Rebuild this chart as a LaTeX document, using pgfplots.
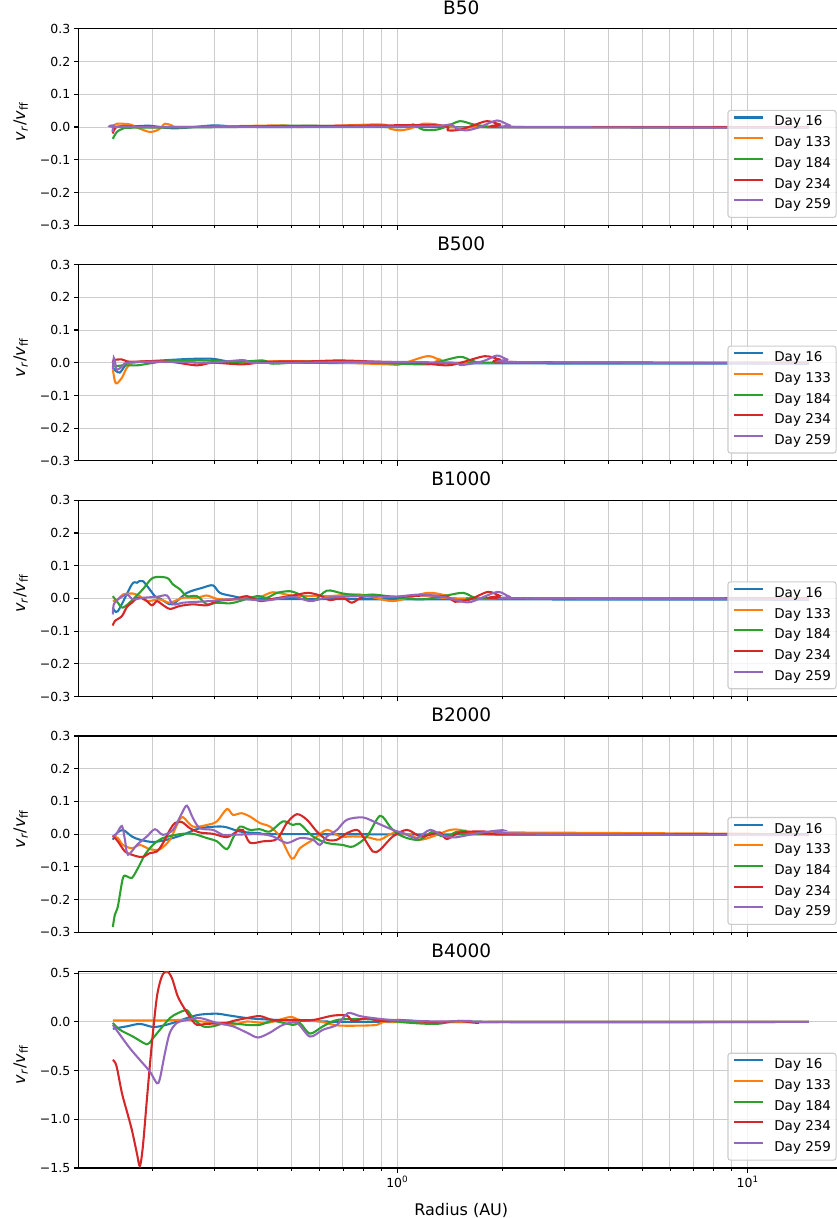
\documentclass[border=0pt]{standalone}
\usepackage{fontspec}
\setmainfont{DejaVu Sans}
\usepackage{pgfplots}
\pgfplotsset{compat=1.18}
\definecolor{c0}{HTML}{1F77B4}
\definecolor{c1}{HTML}{FF7F0E}
\definecolor{c2}{HTML}{2CA02C}
\definecolor{c3}{HTML}{D62728}
\definecolor{c4}{HTML}{9467BD}
\pgfplotsset{
  legend image code/.code={\draw[#1, line width=2.08pt] (0pt,5pt) -- (28.7pt,5pt); \path (39.3pt,5pt);},
}
\begin{document}
\begin{tikzpicture}
% ---------------- B50
\begin{axis}[scale only axis, width=765.1pt, height=196.3pt, anchor=south west, at={(78.7pt,992.8pt)},
    xmode=log, xmin=0.1233, xmax=18.81, xtick={1,10},
    minor xtick={0.2,0.3,0.4,0.5,0.6,0.7,0.8,0.9,2,3,4,5,6,7,8,9},
    xticklabels={,,},
    ymin=-0.3, ymax=0.3, ytick={-0.3,-0.2,-0.1,0,0.1,0.2,0.3},
    yticklabels={−0.3,−0.2,−0.1,0.0,0.1,0.2,0.3},
    xmajorgrids, xminorgrids, ymajorgrids,
    grid style={line width=1.0pt, color=black!20},
    axis line style={line width=1.1pt, black},
    tick align=outside, tick pos=left,
    major tick length=4.9pt, minor tick length=2.8pt,
    major tick style={line width=1.1pt, black},
    minor tick style={line width=0.8pt, black},
    tick label style={font=\fontsize{12.5}{15}\selectfont},
    title={B50},
    title style={font=\fontsize{18.5}{22}\selectfont, at={(0.5,1)}, anchor=base, yshift=8.3pt},
    ylabel={\textit{v}\textsubscript{\textit{r}}/\textit{v}\textsubscript{ff}},
    every axis y label/.style={at={(axis description cs:0,0.5)}, xshift=-53.5pt, yshift=5pt, rotate=90, anchor=base, font=\fontsize{16}{19}\selectfont},
    legend style={at={(1,0)}, anchor=south east, xshift=-7.2pt, yshift=7.3pt,
      draw=black!20, line width=1.1pt, rounded corners=2.5pt, fill=white, fill opacity=0.8, text opacity=1,
      font=\fontsize{13.5}{16}\selectfont, inner xsep=5pt, inner ysep=5.2pt, row sep=7pt,
      nodes={inner sep=0pt, text height=10.3pt, text depth=3.4pt}},
    legend cell align=left,
]
\addplot[c0, line width=2.08pt, smooth, tension=0.5] coordinates {(0.1543,-0.015)(0.1564,0)(0.1761,0.002)(0.1969,0.004)(0.2202,-0.003)(0.2445,-0.003)(0.2979,0.005)(0.3397,0.002)(0.4246,0)(1.0,0)(3,-0.001)(14.95,-0.002)};
\addlegendentry{Day 16}
\addplot[c1, line width=2.08pt, smooth, tension=0.5] coordinates {(0.1543,0.002)(0.1585,0.010)(0.1726,0.008)(0.1843,-0.005)(0.1969,-0.015)(0.2083,-0.008)(0.2173,0.010)(0.2275,0.005)(0.2445,0)(0.4626,0.005)(0.5276,0)(0.8925,0.008)(0.9532,-0.005)(1.018,-0.010)(1.087,-0.005)(1.184,0.010)(1.295,0.008)(1.386,0)(1.581,-0.002)(1.964,0)(14.95,0)};
\addlegendentry{Day 133}
\addplot[c2, line width=2.08pt, smooth, tension=0.5] coordinates {(0.1543,-0.036)(0.1585,-0.015)(0.1649,-0.005)(0.1761,-0.002)(0.3397,0)(0.4717,0.004)(0.5745,0.004)(1.018,0)(1.109,0.008)(1.184,-0.008)(1.295,-0.008)(1.386,0.002)(1.510,0.018)(1.649,0.008)(1.803,0.002)(1.964,0)(14.95,0)};
\addlegendentry{Day 184}
\addplot[c3, line width=2.08pt, smooth, tension=0.5] coordinates {(0.1543,-0.020)(0.1564,-0.005)(0.1638,0.002)(0.2202,0)(0.6999,0.004)(1.324,0.005)(1.395,-0.010)(1.510,-0.008)(1.649,0.005)(1.803,0.018)(1.964,0.008)(2.14,0)(14.95,0)};
\addlegendentry{Day 234}
\addplot[c4, line width=2.08pt, smooth, tension=0.5] coordinates {(0.1543,-0.015)(0.1553,0.005)(0.1616,0)(0.4,0)(1.2,0.002)(1.414,0.008)(1.477,-0.005)(1.581,-0.010)(1.722,0)(1.925,0.020)(2.097,0.005)(2.29,0)(14.95,-0.002)};
\addlegendentry{Day 259}
\end{axis}
% ---------------- B500
\begin{axis}[scale only axis, width=765.1pt, height=196.3pt, anchor=south west, at={(78.7pt,757.1pt)},
    xmode=log, xmin=0.1233, xmax=18.81, xtick={1,10},
    minor xtick={0.2,0.3,0.4,0.5,0.6,0.7,0.8,0.9,2,3,4,5,6,7,8,9},
    xticklabels={,,},
    ymin=-0.3, ymax=0.3, ytick={-0.3,-0.2,-0.1,0,0.1,0.2,0.3},
    yticklabels={−0.3,−0.2,−0.1,0.0,0.1,0.2,0.3},
    xmajorgrids, xminorgrids, ymajorgrids,
    grid style={line width=1.0pt, color=black!20},
    axis line style={line width=1.1pt, black},
    tick align=outside, tick pos=left,
    major tick length=4.9pt, minor tick length=2.8pt,
    major tick style={line width=1.1pt, black},
    minor tick style={line width=0.8pt, black},
    tick label style={font=\fontsize{12.5}{15}\selectfont},
    title={B500},
    title style={font=\fontsize{18.5}{22}\selectfont, at={(0.5,1)}, anchor=base, yshift=8.3pt},
    ylabel={\textit{v}\textsubscript{\textit{r}}/\textit{v}\textsubscript{ff}},
    every axis y label/.style={at={(axis description cs:0,0.5)}, xshift=-53.5pt, yshift=5pt, rotate=90, anchor=base, font=\fontsize{16}{19}\selectfont},
    legend style={at={(1,0)}, anchor=south east, xshift=-7.2pt, yshift=7.3pt,
      draw=black!20, line width=1.1pt, rounded corners=2.5pt, fill=white, fill opacity=0.8, text opacity=1,
      font=\fontsize{13.5}{16}\selectfont, inner xsep=5pt, inner ysep=5.2pt, row sep=7pt,
      nodes={inner sep=0pt, text height=10.3pt, text depth=3.4pt}},
    legend cell align=left,
]
\addplot[c0, line width=2.08pt, smooth, tension=0.5] coordinates {(0.1543,-0.015)(0.1574,-0.025)(0.1616,-0.030)(0.1671,-0.010)(0.1726,0)(0.2202,0.008)(0.2612,0.012)(0.2979,0.012)(0.3397,0.002)(0.4246,0)(2,-0.002)(14.95,-0.003)};
\addlegendentry{Day 16}
\addplot[c1, line width=2.08pt, smooth, tension=0.5] coordinates {(0.1543,-0.020)(0.1564,-0.056)(0.1585,-0.063)(0.1638,-0.046)(0.1693,-0.015)(0.1761,0)(0.1969,0.005)(0.2445,0.005)(0.2735,0)(0.3724,0.002)(0.5172,0.005)(0.9346,-0.005)(1.018,-0.005)(1.216,0.020)(1.324,0.010)(1.581,0)(14.95,0)};
\addlegendentry{Day 133}
\addplot[c2, line width=2.08pt, smooth, tension=0.5] coordinates {(0.1543,-0.012)(0.1649,-0.008)(0.1808,-0.008)(0.1969,-0.002)(0.2202,0.005)(0.2735,0.008)(0.3397,0.002)(0.4136,0.007)(0.4419,-0.003)(0.5745,0.004)(0.7474,0.002)(1.161,-0.005)(1.264,-0.002)(1.510,0.018)(1.649,0.005)(1.964,0)(14.95,0)};
\addlegendentry{Day 184}
\addplot[c3, line width=2.08pt, smooth, tension=0.5] coordinates {(0.1543,0)(0.1553,0.008)(0.1638,0.010)(0.1726,0.003)(0.2008,0.005)(0.2290,0.002)(0.2682,-0.008)(0.2979,0)(0.3627,-0.005)(0.4246,0.003)(0.5524,0.004)(0.6862,0.007)(0.8925,0.003)(1.136,0)(1.386,-0.008)(1.540,0.002)(1.779,0.020)(1.964,0.010)(2.19,0.002)(14.95,0)};
\addlegendentry{Day 234}
\addplot[c4, line width=2.08pt, smooth, tension=0.5] coordinates {(0.1543,-0.020)(0.1553,0.015)(0.1574,-0.010)(0.1585,-0.022)(0.1638,-0.012)(0.1693,0)(0.1969,0.003)(0.2445,0.002)(0.2920,0)(0.3627,0.008)(0.3882,0)(0.5276,0)(0.8358,0.003)(1.414,0)(1.527,-0.007)(1.760,0.005)(1.925,0.022)(2.06,0.010)(2.24,0.002)(14.95,-0.002)};
\addlegendentry{Day 259}
\end{axis}
% ---------------- B1000
\begin{axis}[scale only axis, width=765.1pt, height=196.3pt, anchor=south west, at={(78.7pt,521.4pt)},
    xmode=log, xmin=0.1233, xmax=18.81, xtick={1,10},
    minor xtick={0.2,0.3,0.4,0.5,0.6,0.7,0.8,0.9,2,3,4,5,6,7,8,9},
    xticklabels={,,},
    ymin=-0.3, ymax=0.3, ytick={-0.3,-0.2,-0.1,0,0.1,0.2,0.3},
    yticklabels={−0.3,−0.2,−0.1,0.0,0.1,0.2,0.3},
    xmajorgrids, xminorgrids, ymajorgrids,
    grid style={line width=1.0pt, color=black!20},
    axis line style={line width=1.1pt, black},
    tick align=outside, tick pos=left,
    major tick length=4.9pt, minor tick length=2.8pt,
    major tick style={line width=1.1pt, black},
    minor tick style={line width=0.8pt, black},
    tick label style={font=\fontsize{12.5}{15}\selectfont},
    title={B1000},
    title style={font=\fontsize{18.5}{22}\selectfont, at={(0.5,1)}, anchor=base, yshift=8.3pt},
    ylabel={\textit{v}\textsubscript{\textit{r}}/\textit{v}\textsubscript{ff}},
    every axis y label/.style={at={(axis description cs:0,0.5)}, xshift=-53.5pt, yshift=5pt, rotate=90, anchor=base, font=\fontsize{16}{19}\selectfont},
    legend style={at={(1,0)}, anchor=south east, xshift=-7.2pt, yshift=7.3pt,
      draw=black!20, line width=1.1pt, rounded corners=2.5pt, fill=white, fill opacity=0.8, text opacity=1,
      font=\fontsize{13.5}{16}\selectfont, inner xsep=5pt, inner ysep=5.2pt, row sep=7pt,
      nodes={inner sep=0pt, text height=10.3pt, text depth=3.4pt}},
    legend cell align=left,
]
\addplot[c0, line width=2.08pt, smooth, tension=0.5] coordinates {(0.1543,-0.028)(0.1595,-0.039)(0.1749,0.043)(0.1808,0.048)(0.1880,0.053)(0.2035,0.007)(0.2103,0)(0.2275,-0.018)(0.2511,0.017)(0.2789,0.033)(0.2979,0.040)(0.3119,0.017)(0.3397,0.007)(0.3724,0)(0.5,-0.002)(14.95,-0.004)};
\addlegendentry{Day 16}
\addplot[c1, line width=2.08pt, smooth, tension=0.5] coordinates {(0.1543,-0.008)(0.1595,-0.003)(0.1649,0.012)(0.1761,0.015)(0.1843,0.007)(0.1930,-0.008)(0.2103,-0.003)(0.2245,-0.013)(0.2445,0.002)(0.2682,0.002)(0.2863,0.009)(0.3058,-0.001)(0.3397,-0.003)(0.4056,0.005)(0.4419,0.019)(0.5038,0.009)(0.6300,0.007)(0.7826,0.012)(0.9721,-0.008)(1.216,0.017)(1.386,0.009)(1.6,0)(14.95,0)};
\addlegendentry{Day 133}
\addplot[c2, line width=2.08pt, smooth, tension=0.5] coordinates {(0.1543,0.007)(0.1595,-0.013)(0.1649,-0.028)(0.1761,-0.003)(0.1880,0.028)(0.2008,0.063)(0.2202,0.063)(0.2290,0.043)(0.2398,0.028)(0.2511,0.007)(0.2682,0.007)(0.2863,-0.018)(0.3058,-0.013)(0.3331,-0.015)(0.3556,-0.008)(0.3977,0.007)(0.4246,0.002)(0.4536,0.017)(0.4940,0.022)(0.5276,0.012)(0.5745,-0.008)(0.6300,0.024)(0.6999,0.015)(0.7826,0.009)(0.8523,0.012)(0.9721,0.005)(1.161,-0.003)(1.352,0.007)(1.540,0.017)(1.667,0.002)(1.839,0)(14.95,0)};
\addlegendentry{Day 184}
\addplot[c3, line width=2.08pt, smooth, tension=0.5] coordinates {(0.1543,-0.083)(0.1564,-0.069)(0.1638,-0.054)(0.1693,-0.026)(0.1749,-0.013)(0.1820,0.002)(0.1905,-0.003)(0.1995,-0.021)(0.2062,-0.008)(0.2131,-0.018)(0.2245,-0.032)(0.2398,-0.023)(0.2612,-0.018)(0.2863,-0.021)(0.3058,-0.008)(0.3397,-0.003)(0.3724,0.007)(0.4056,-0.008)(0.4419,-0.001)(0.5038,0.009)(0.5560,0.017)(0.6017,0.009)(0.6426,-0.005)(0.6999,0.002)(0.7425,-0.013)(0.7982,0.005)(0.8925,0.007)(0.9961,0.005)(1.216,0.009)(1.386,0.005)(1.461,-0.010)(1.613,-0.003)(1.815,0.020)(1.964,0.008)(2.097,0)(14.95,0)};
\addlegendentry{Day 234}
\addplot[c4, line width=2.08pt, smooth, tension=0.5] coordinates {(0.1543,-0.049)(0.1553,-0.018)(0.1595,-0.003)(0.1693,0.012)(0.1761,-0.003)(0.1880,0.002)(0.2062,0.005)(0.2202,0.009)(0.2290,-0.018)(0.2445,-0.013)(0.2612,-0.011)(0.2920,-0.008)(0.3266,-0.003)(0.3724,-0.003)(0.4246,-0.006)(0.5038,0.005)(0.5633,-0.008)(0.6300,0.002)(0.7826,0.007)(0.9721,0.005)(1.161,0.012)(1.352,0.005)(1.581,-0.012)(1.722,0)(1.938,0.020)(2.097,0.005)(2.3,0)(14.95,-0.003)};
\addlegendentry{Day 259}
\end{axis}
% ---------------- B2000
\begin{axis}[scale only axis, width=765.1pt, height=196.3pt, anchor=south west, at={(78.7pt,285.7pt)},
    xmode=log, xmin=0.1233, xmax=18.81, xtick={1,10},
    minor xtick={0.2,0.3,0.4,0.5,0.6,0.7,0.8,0.9,2,3,4,5,6,7,8,9},
    xticklabels={,,},
    ymin=-0.3, ymax=0.3, ytick={-0.3,-0.2,-0.1,0,0.1,0.2,0.3},
    yticklabels={−0.3,−0.2,−0.1,0.0,0.1,0.2,0.3},
    xmajorgrids, xminorgrids, ymajorgrids,
    grid style={line width=1.0pt, color=black!20},
    axis line style={line width=1.1pt, black},
    tick align=outside, tick pos=left,
    major tick length=4.9pt, minor tick length=2.8pt,
    major tick style={line width=1.1pt, black},
    minor tick style={line width=0.8pt, black},
    tick label style={font=\fontsize{12.5}{15}\selectfont},
    title={B2000},
    title style={font=\fontsize{18.5}{22}\selectfont, at={(0.5,1)}, anchor=base, yshift=8.3pt},
    ylabel={\textit{v}\textsubscript{\textit{r}}/\textit{v}\textsubscript{ff}},
    every axis y label/.style={at={(axis description cs:0,0.5)}, xshift=-53.5pt, yshift=5pt, rotate=90, anchor=base, font=\fontsize{16}{19}\selectfont},
    legend style={at={(1,0)}, anchor=south east, xshift=-7.2pt, yshift=7.3pt,
      draw=black!20, line width=1.1pt, rounded corners=2.5pt, fill=white, fill opacity=0.8, text opacity=1,
      font=\fontsize{13.5}{16}\selectfont, inner xsep=5pt, inner ysep=5.2pt, row sep=7pt,
      nodes={inner sep=0pt, text height=10.3pt, text depth=3.4pt}},
    legend cell align=left,
]
\addplot[c0, line width=2.08pt, smooth, tension=0.5] coordinates {(0.1543,-0.017)(0.1585,0.003)(0.1649,0.013)(0.1749,-0.007)(0.1843,-0.017)(0.2008,-0.024)(0.2202,-0.017)(0.2445,-0.002)(0.2735,0.018)(0.3181,0.023)(0.3556,0.008)(0.4056,0.003)(0.5038,0)(14.95,-0.002)};
\addlegendentry{Day 16}
\addplot[c1, line width=2.08pt, smooth, tension=0.5] coordinates {(0.1543,-0.005)(0.1595,-0.012)(0.1649,-0.033)(0.1749,-0.043)(0.1843,-0.033)(0.1969,-0.046)(0.2103,-0.046)(0.2245,-0.017)(0.2366,0.034)(0.2445,0.052)(0.2612,0.023)(0.2863,0.028)(0.3058,0.039)(0.3266,0.077)(0.3397,0.059)(0.3595,0.064)(0.3798,0.054)(0.4056,0.034)(0.4332,0.023)(0.4626,-0.007)(0.5005,-0.075)(0.5276,-0.043)(0.5745,-0.017)(0.6300,0.013)(0.6862,-0.007)(0.7474,-0.007)(0.8194,-0.009)(0.8925,-0.017)(0.9721,0.003)(1.087,-0.002)(1.161,-0.017)(1.264,-0.007)(1.414,0.013)(1.510,0.013)(1.7,0.003)(2.2,0.005)(14.95,0)};
\addlegendentry{Day 133}
\addplot[c2, line width=2.08pt, smooth, tension=0.5] coordinates {(0.1543,-0.284)(0.1564,-0.246)(0.1595,-0.221)(0.1649,-0.134)(0.1693,-0.129)(0.1749,-0.134)(0.1820,-0.104)(0.1905,-0.063)(0.2008,-0.033)(0.2144,-0.012)(0.2398,0)(0.2612,0.001)(0.2863,-0.012)(0.3058,-0.022)(0.3266,-0.046)(0.3397,-0.012)(0.3556,0.023)(0.3798,0.013)(0.4056,0.015)(0.4332,0.008)(0.4717,0.039)(0.5038,0.028)(0.5276,0.031)(0.5745,-0.007)(0.6300,-0.027)(0.6999,-0.033)(0.7474,-0.038)(0.8194,-0.007)(0.8925,0.056)(0.9532,0.023)(0.9961,0.003)(1.066,-0.012)(1.161,-0.017)(1.264,0.008)(1.352,-0.007)(1.561,0.010)(1.7,0)(14.95,0)};
\addlegendentry{Day 184}
\addplot[c3, line width=2.08pt, smooth, tension=0.5] coordinates {(0.1543,-0.005)(0.1595,-0.022)(0.1671,-0.053)(0.1749,-0.063)(0.1868,-0.070)(0.1969,-0.058)(0.2062,-0.053)(0.2144,-0.028)(0.2245,0.013)(0.2320,0.034)(0.2429,0.037)(0.2561,0.018)(0.2735,0.005)(0.2979,0.001)(0.3266,-0.009)(0.3487,0.008)(0.3627,0.013)(0.3798,-0.026)(0.4136,-0.022)(0.4536,-0.015)(0.4843,0.034)(0.5172,0.061)(0.5524,0.044)(0.5898,0.008)(0.6300,-0.017)(0.6729,-0.017)(0.7185,0.003)(0.7674,0.013)(0.7982,-0.007)(0.8523,-0.053)(0.8925,-0.048)(0.9721,-0.007)(1.066,0.013)(1.161,-0.007)(1.240,-0.002)(1.324,0.005)(1.386,-0.015)(1.510,0.005)(1.779,0.008)(2.0,0)(14.95,0)};
\addlegendentry{Day 234}
\addplot[c4, line width=2.08pt, smooth, tension=0.5] coordinates {(0.1543,-0.007)(0.1585,0.003)(0.1638,0.025)(0.1671,-0.017)(0.1704,-0.063)(0.1808,-0.033)(0.1930,-0.007)(0.2035,0.015)(0.2144,-0.002)(0.2290,0.013)(0.2429,0.064)(0.2511,0.087)(0.2612,0.049)(0.2735,0.018)(0.2979,0.013)(0.3181,-0.002)(0.3397,-0.002)(0.4056,0)(0.4419,-0.007)(0.4843,-0.027)(0.5276,-0.012)(0.5745,-0.017)(0.6017,-0.033)(0.6300,-0.007)(0.6729,0.013)(0.7185,0.044)(0.7982,0.051)(0.8751,0.034)(0.9721,0.013)(1.042,0.003)(1.136,-0.012)(1.240,0.013)(1.352,-0.005)(1.461,-0.010)(1.7,0.003)(2.003,0.012)(2.2,0.002)(14.95,-0.003)};
\addlegendentry{Day 259}
\end{axis}
% ---------------- B4000
\begin{axis}[scale only axis, width=765.1pt, height=196.3pt, anchor=south west, at={(78.7pt,50pt)},
    xmode=log, xmin=0.1233, xmax=18.81, xtick={1,10},
    minor xtick={0.2,0.3,0.4,0.5,0.6,0.7,0.8,0.9,2,3,4,5,6,7,8,9},
    xticklabels={10\textsuperscript{0},10\textsuperscript{1}},
    xlabel={Radius (AU)},
    xlabel style={at={(axis description cs:0.5,0)}, anchor=base, yshift=-47.7pt, font=\fontsize{16}{19}\selectfont},
    ymin=-1.5, ymax=0.516, ytick={-1.5,-1,-0.5,0,0.5},
    yticklabels={−1.5,−1.0,−0.5,0.0,0.5},
    xmajorgrids, xminorgrids, ymajorgrids,
    grid style={line width=1.0pt, color=black!20},
    axis line style={line width=1.1pt, black},
    tick align=outside, tick pos=left,
    major tick length=4.9pt, minor tick length=2.8pt,
    major tick style={line width=1.1pt, black},
    minor tick style={line width=0.8pt, black},
    tick label style={font=\fontsize{12.5}{15}\selectfont},
    title={B4000},
    title style={font=\fontsize{18.5}{22}\selectfont, at={(0.5,1)}, anchor=base, yshift=8.3pt},
    ylabel={\textit{v}\textsubscript{\textit{r}}/\textit{v}\textsubscript{ff}},
    every axis y label/.style={at={(axis description cs:0,0.5)}, xshift=-53.5pt, yshift=5pt, rotate=90, anchor=base, font=\fontsize{16}{19}\selectfont},
    legend style={at={(1,0)}, anchor=south east, xshift=-7.2pt, yshift=7.3pt,
      draw=black!20, line width=1.1pt, rounded corners=2.5pt, fill=white, fill opacity=0.8, text opacity=1,
      font=\fontsize{13.5}{16}\selectfont, inner xsep=5pt, inner ysep=5.2pt, row sep=7pt,
      nodes={inner sep=0pt, text height=10.3pt, text depth=3.4pt}},
    legend cell align=left,
]
\addplot[c0, line width=2.08pt, smooth, tension=0.5] coordinates {(0.1543,-0.07)(0.1693,-0.045)(0.1843,-0.02)(0.1995,-0.05)(0.2103,-0.045)(0.2290,-0.01)(0.2511,0.04)(0.2735,0.075)(0.3058,0.085)(0.3266,0.07)(0.3724,0.04)(0.4246,0.025)(0.5038,0.015)(0.6300,0.005)(0.7826,0)(14.95,0)};
\addlegendentry{Day 16}
\addplot[c1, line width=2.08pt, smooth, tension=0.5] coordinates {(0.1543,0.015)(0.2103,0.015)(0.2511,0.02)(0.2920,-0.005)(0.3397,-0.03)(0.3724,0.005)(0.4246,-0.01)(0.4940,0.05)(0.5276,0.02)(0.6017,0.005)(0.6729,-0.035)(0.7826,-0.038)(0.8751,-0.03)(0.9346,0.005)(1.2,0)(14.95,0)};
\addlegendentry{Day 133}
\addplot[c2, line width=2.08pt, smooth, tension=0.5] coordinates {(0.1543,-0.01)(0.1616,-0.08)(0.1761,-0.15)(0.1930,-0.23)(0.1995,-0.18)(0.2103,-0.08)(0.2245,0.04)(0.2366,0.09)(0.2511,0.12)(0.2612,0.04)(0.2789,-0.045)(0.2979,-0.045)(0.3266,-0.01)(0.3724,-0.03)(0.4056,-0.03)(0.4419,0.01)(0.5038,-0.03)(0.5276,-0.01)(0.5633,-0.12)(0.6137,-0.045)(0.6729,0.02)(0.7826,0.03)(0.8925,0.02)(1.1,-0.01)(1.3,-0.02)(1.5,0.01)(2.0,0)(14.95,0)};
\addlegendentry{Day 184}
\addplot[c3, line width=2.08pt, smooth, tension=0.5] coordinates {(0.1543,-0.39)(0.1580,-0.45)(0.1638,-0.73)(0.1693,-0.92)(0.1749,-1.11)(0.1808,-1.35)(0.1843,-1.48)(0.1880,-1.28)(0.1930,-0.80)(0.1995,-0.22)(0.2062,0.26)(0.2131,0.47)(0.2202,0.52)(0.2275,0.45)(0.2366,0.26)(0.2478,0.13)(0.2595,0.02)(0.2682,-0.03)(0.2863,-0.02)(0.3266,-0.01)(0.3397,0.01)(0.3724,0.04)(0.4056,0.06)(0.4419,0.02)(0.5038,0.02)(0.5745,0.02)(0.6554,0.065)(0.7185,0.065)(0.7474,0.01)(0.8194,0.04)(0.8925,0.01)(1.018,0.02)(1.3,-0.005)(1.5,0.01)(1.7,-0.01)(2.0,0)(14.95,0)};
\addlegendentry{Day 234}
\addplot[c4, line width=2.08pt, smooth, tension=0.5] coordinates {(0.1543,-0.03)(0.1616,-0.13)(0.1726,-0.27)(0.1843,-0.39)(0.1969,-0.51)(0.2062,-0.63)(0.2103,-0.58)(0.2173,-0.32)(0.2245,-0.11)(0.2351,-0.01)(0.2511,0.02)(0.2735,0.04)(0.3058,-0.01)(0.3397,-0.045)(0.3724,-0.11)(0.4003,-0.16)(0.4332,-0.11)(0.4717,-0.03)(0.5172,-0.01)(0.5633,-0.15)(0.6137,-0.08)(0.6729,-0.03)(0.7233,0.09)(0.7826,0.06)(0.8523,0.04)(0.9721,0.02)(1.3,0.005)(1.6,0.01)(2.0,0)(14.95,0)};
\addlegendentry{Day 259}
\end{axis}
\pgfresetboundingbox
\path[use as bounding box] (0pt,0pt) rectangle (837pt,1218pt);
\end{tikzpicture}
\end{document}
